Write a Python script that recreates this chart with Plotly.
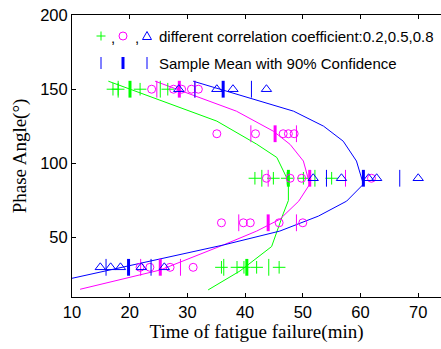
import plotly.graph_objects as go

# ---------------- data ----------------
# sample points (time of fatigue failure, phase angle)
green_x = [17.1, 18.0, 21.8, 26.6, 41.7, 44.9, 47.3, 50.1, 55.0, 35.9, 38.6, 39.8, 42.0, 45.9]
green_y = [150, 150, 150, 150, 90, 90, 90, 90, 90, 30, 30, 30, 30, 30]

magenta_x = [23.8, 27.6, 29.0, 30.7, 31.9, 35.1, 41.8, 46.6, 47.5, 48.5,
             43.7, 47.8, 49.8, 61.9, 35.9, 39.7, 40.9, 45.9, 50.0, 21.8, 23.5, 27.0, 31.0]
magenta_y = [150, 150, 150, 150, 150, 120, 120, 120, 120, 120,
             90, 90, 90, 90, 60, 60, 60, 60, 60, 30, 30, 30, 30]

blue_x = [28.5, 35.1, 37.9, 43.7, 51.8, 56.7, 61.4, 62.8, 70.0, 14.9, 16.7, 18.4, 22.0, 26.0]
blue_y = [150, 150, 150, 150, 90, 90, 90, 90, 90, 30, 30, 30, 30, 30]

# sample mean with 90% confidence bounds
green_stat_y = [150, 90, 30]
green_mean = [20.05, 47.5, 40.3]
green_lo = [18.0, 42.9, 36.3]
green_hi = [25.3, 52.1, 44.1]

magenta_stat_y = [150, 120, 90, 60, 30]
magenta_mean = [28.6, 45.2, 51.2, 44.0, 25.3]
magenta_lo = [24.7, 41.0, 44.0, 38.9, 21.9]
magenta_hi = [31.3, 48.9, 57.4, 48.9, 28.8]

blue_stat_y = [150, 90, 30]
blue_mean = [36.2, 60.5, 19.8]
blue_lo = [31.3, 54.1, 15.9]
blue_hi = [41.1, 66.8, 23.7]

# fitted curves
green_curve_x = [16.3, 25.8, 35.1, 42.0, 45.5, 47.5, 47.5, 46.6, 44.6, 39.1, 33.6]
green_curve_y = [155.4, 142, 128.5, 113, 104, 88, 75, 66, 44, 27.5, 14.8]

magenta_curve_x = [24.4, 33.9, 38.5, 44.9, 47.8, 50.1, 51.2, 49.3, 46.0, 42.0, 36.2, 25.3, 11.4]
magenta_curve_y = [155.4, 141.9, 135.2, 121.7, 112.8, 101.6, 86, 74.6, 62.3, 54.4, 45.0, 28.2, 15.2]

blue_curve_x = [31.0, 42.6, 48.4, 53.6, 57.0, 59.3, 60.5, 57.6, 52.7, 46.0, 36.2, 10.0]
blue_curve_y = [155.4, 141.9, 135.2, 125.1, 115.0, 101.6, 86, 74.6, 64.5, 54.4, 45.0, 22.6]

x_ticks = [10, 20, 30, 40, 50, 60, 70]
y_ticks = [50, 100, 150, 200]

GREEN = "#00ff00"
MAGENTA = "#ff00ff"
BLUE = "#0000ff"

W, H = 441, 349
ML, MR, MT, MB = 72, 0, 15, 52
PW, PH = W - ML - MR, H - MT - MB

fig = go.Figure()

series = [
    (GREEN, green_curve_x, green_curve_y, green_x, green_y, "cross-thin-open", 9,
     green_stat_y, green_mean, green_lo, green_hi),
    (MAGENTA, magenta_curve_x, magenta_curve_y, magenta_x, magenta_y, "circle-open", 8,
     magenta_stat_y, magenta_mean, magenta_lo, magenta_hi),
    (BLUE, blue_curve_x, blue_curve_y, blue_x, blue_y, "triangle-up-open", 9,
     blue_stat_y, blue_mean, blue_lo, blue_hi),
]

for col, cx, cy, px, py, sym, sz, sy, mean, lo, hi in series:
    fig.add_trace(go.Scatter(x=cx, y=cy, mode="lines",
                             line=dict(color=col, width=1), showlegend=False,
                             hoverinfo="skip"))
for col, cx, cy, px, py, sym, sz, sy, mean, lo, hi in series:
    fig.add_trace(go.Scatter(x=px, y=py, mode="markers",
                             marker=dict(symbol=sym, size=sz, color=col,
                                         line=dict(color=col, width=1)),
                             showlegend=False))
    fig.add_trace(go.Scatter(x=lo + hi, y=sy + sy, mode="markers",
                             marker=dict(symbol="line-ns", size=12, color=col,
                                         line=dict(color=col, width=1)),
                             showlegend=False))
    fig.add_trace(go.Scatter(x=mean, y=sy, mode="markers",
                             marker=dict(symbol="line-ns", size=12, color=col,
                                         line=dict(color=col, width=3)),
                             showlegend=False))


def px2paper(xp, yp):
    return (xp - ML) / PW, (H - MB - yp) / PH


shapes = []
annotations = []


def pshape(xp, yp, **kw):
    ax, ay = px2paper(xp, yp)
    d = dict(xref="paper", yref="paper", xsizemode="pixel", ysizemode="pixel",
             xanchor=ax, yanchor=ay)
    d.update(kw)
    shapes.append(d)


# legend row 1 symbols
r1, r2 = 36, 63
pshape(101, r1, type="line", x0=-4.5, x1=4.5, y0=0, y1=0, line=dict(color=GREEN, width=1))
pshape(101, r1, type="line", x0=0, x1=0, y0=-4.5, y1=4.5, line=dict(color=GREEN, width=1))
pshape(123, r1, type="circle", x0=-4, x1=4, y0=-4, y1=4, line=dict(color=MAGENTA, width=1))
pshape(147, r1, type="path", path="M -4.5,-3.5 L 4.5,-3.5 L 0,4.5 Z", line=dict(color=BLUE, width=1))
# legend row 2 bars
pshape(101, r2, type="line", x0=0, x1=0, y0=-6, y1=6, line=dict(color=BLUE, width=1))
pshape(123, r2, type="line", x0=0, x1=0, y0=-6, y1=6, line=dict(color=BLUE, width=3))
pshape(147, r2, type="line", x0=0, x1=0, y0=-6, y1=6, line=dict(color=BLUE, width=1))

LFONT = dict(family="Arial, 'Liberation Sans', sans-serif", size=15, color="black")
for xp, yp, txt, xa in [(113, r1 + 2, ",", "center"), (137, r1 + 2, ",", "center"),
                        (157, r1, "different correlation coefficient:0.2,0.5,0.8", "left"),
                        (157, r2, "Sample Mean with 90% Confidence", "left")]:
    ax, ay = px2paper(xp, yp)
    annotations.append(dict(xref="paper", yref="paper", x=ax, y=ay, text=txt,
                            showarrow=False, xanchor=xa, yanchor="middle", font=LFONT))

SERIF = "'Times New Roman', 'Liberation Serif', serif"
SANS = "Arial, 'Liberation Sans', sans-serif"

fig.update_layout(
    width=W, height=H,
    margin=dict(l=ML, r=MR, t=MT, b=MB),
    paper_bgcolor="white", plot_bgcolor="white",
    showlegend=False,
    shapes=shapes, annotations=annotations,
    xaxis=dict(range=[10, 10 + PW / 5.77], tickvals=x_ticks, ticks="inside", ticklen=4,
               tickcolor="black", showline=True, linecolor="black", linewidth=1,
               mirror="allticks", showgrid=False, zeroline=False,
               tickfont=dict(family=SANS, size=16.5, color="black"),
               title=dict(text="Time of fatigue failure(min)",
                          font=dict(family=SERIF, size=19, color="black"), standoff=4)),
    yaxis=dict(range=[10, 200], tickvals=y_ticks, ticks="inside", ticklen=4,
               tickcolor="black", showline=True, linecolor="black", linewidth=1,
               mirror=False, showgrid=False, zeroline=False,
               tickfont=dict(family=SANS, size=16.5, color="black"),
               title=dict(text="Phase Angle(\u00b0)",
                          font=dict(family=SERIF, size=19, color="black"), standoff=8)),
)

fig.write_html("out.html")
